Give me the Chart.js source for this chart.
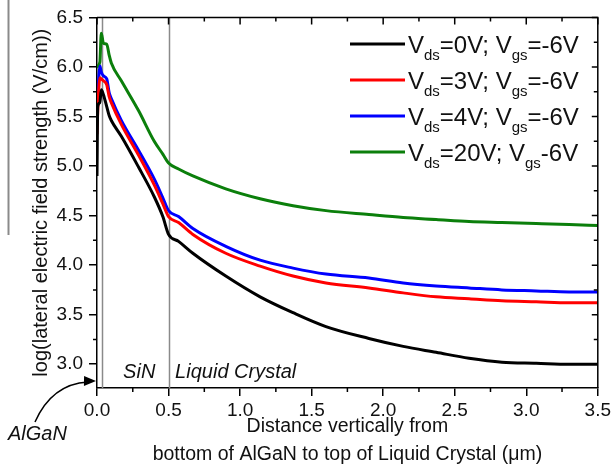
<!DOCTYPE html>
<html>
<head>
<meta charset="utf-8">
<script src="https://cdn.jsdelivr.net/npm/chart.js@4.4.1/dist/chart.umd.min.js"></script>
<style>
  html, body { margin: 0; padding: 0; background: #fff; }
  #wrap { position: relative; width: 614px; height: 468px; }
</style>
</head>
<body>
<div id="wrap"><canvas id="chart" width="614" height="468"></canvas></div>
<script>
// distance from bottom of AlGaN (um)
const xs = [0, 0.005, 0.02, 0.03, 0.045, 0.068, 0.085, 0.1, 0.17, 0.29, 0.4, 0.46, 0.5,
  0.57, 0.67, 0.9, 1.14, 1.37, 1.6, 1.9, 2.14, 2.37, 2.6, 2.83, 3.07, 3.3, 3.5];

// log(field) for each bias
const vds0 = [4.90, 5.60, 5.64, 5.77, 5.72, 5.60, 5.51, 5.46, 5.30, 4.99, 4.69, 4.49, 4.31,
  4.24, 4.12, 3.89, 3.68, 3.52, 3.38, 3.26, 3.18, 3.12, 3.06, 3.02, 3.01, 3.00, 3.00];
const vds3 = [5.32, 5.55, 5.89, 5.88, 5.86, 5.82, 5.70, 5.64, 5.42, 5.11, 4.81, 4.62, 4.49,
  4.43, 4.31, 4.12, 3.99, 3.89, 3.82, 3.77, 3.72, 3.68, 3.66, 3.64, 3.63, 3.62, 3.62];
const vds4 = [5.42, 5.65, 6.01, 5.95, 5.91, 5.88, 5.74, 5.68, 5.46, 5.16, 4.87, 4.68, 4.55,
  4.49, 4.37, 4.19, 4.05, 3.97, 3.91, 3.87, 3.82, 3.79, 3.77, 3.75, 3.74, 3.73, 3.73];
const vds20 = [5.99, 6.01, 6.05, 6.34, 6.24, 6.23, 6.12, 6.04, 5.86, 5.56, 5.25, 5.12, 5.03,
  4.97, 4.90, 4.77, 4.67, 4.60, 4.55, 4.51, 4.48, 4.46, 4.44, 4.43, 4.42, 4.41, 4.40];

const seriesLabels = ['V_{ds}=0V; V_{gs}=-6V', 'V_{ds}=3V; V_{gs}=-6V',
  'V_{ds}=4V; V_{gs}=-6V', 'V_{ds}=20V; V_{gs}-6V'];
const seriesColors = ['#000000', '#ff0000', '#0000ff', '#0b7f0b'];

const xTicks = [0, 0.5, 1.0, 1.5, 2.0, 2.5, 3.0, 3.5];
const xMinor = [0.25, 0.75, 1.25, 1.75, 2.25, 2.75, 3.25];
const yTicks = [3.0, 3.5, 4.0, 4.5, 5.0, 5.5, 6.0, 6.5];
const yMinor = [3.25, 3.75, 4.25, 4.75, 5.25, 5.75, 6.25];

// layer boundaries (AlGaN/SiN, SiN/LC)
const layerEdges = [0.032, 0.5];

const FONT = '"Liberation Sans", Arial, sans-serif';

function drawRich(ctx, label, x0, base) {
  const parts = label.split(/_\{([^}]*)\}/);
  let x = x0;
  parts.forEach((p, i) => {
    if (!p) return;
    if (i % 2) {
      ctx.font = '15px ' + FONT;
      ctx.fillText(p, x, base + 7);
    } else {
      ctx.font = '24px ' + FONT;
      ctx.fillText(p, x, base);
    }
    x += ctx.measureText(p).width;
  });
}

const extras = {
  id: 'extras',
  beforeDatasetsDraw(chart) {
    const { ctx, chartArea: a, scales: { x } } = chart;
    ctx.save();
    ctx.strokeStyle = '#8a8a8a';
    ctx.lineWidth = 1.5;
    layerEdges.forEach(v => {
      const px = Math.round(x.getPixelForValue(v)) + 0.5;
      ctx.beginPath();
      ctx.moveTo(px, a.top);
      ctx.lineTo(px, a.bottom);
      ctx.stroke();
    });
    ctx.restore();
  },
  afterDraw(chart) {
    const { ctx, chartArea: a, scales: { x, y } } = chart;
    ctx.save();

    // stray rule at the far left of the figure
    ctx.strokeStyle = '#8a8a8a';
    ctx.lineWidth = 2;
    ctx.beginPath();
    ctx.moveTo(8.5, 0);
    ctx.lineTo(8.5, 235);
    ctx.stroke();

    // top and right frame with inward ticks
    ctx.strokeStyle = '#000';
    ctx.lineWidth = 1.5;
    ctx.beginPath();
    ctx.moveTo(a.left, a.top);
    ctx.lineTo(a.right, a.top);
    ctx.lineTo(a.right, a.bottom);
    ctx.stroke();

    ctx.beginPath();
    xTicks.forEach(v => {
      const px = x.getPixelForValue(v);
      ctx.moveTo(px, a.top); ctx.lineTo(px, a.top + 7);
    });
    xMinor.forEach(v => {
      const px = x.getPixelForValue(v);
      ctx.moveTo(px, a.top); ctx.lineTo(px, a.top + 4);
      ctx.moveTo(px, a.bottom); ctx.lineTo(px, a.bottom + 4);
    });
    yTicks.forEach(v => {
      const py = y.getPixelForValue(v);
      ctx.moveTo(a.right, py); ctx.lineTo(a.right - 6, py);
    });
    yMinor.forEach(v => {
      const py = y.getPixelForValue(v);
      ctx.moveTo(a.right, py); ctx.lineTo(a.right - 4, py);
      ctx.moveTo(a.left, py); ctx.lineTo(a.left - 4, py);
    });
    ctx.stroke();

    // layer names
    ctx.fillStyle = '#111';
    ctx.font = 'italic 20px ' + FONT;
    ctx.textBaseline = 'alphabetic';
    ctx.textAlign = 'center';
    ctx.fillText('SiN', x.getPixelForValue(0.295), 378);
    ctx.textAlign = 'left';
    ctx.fillText('Liquid Crystal', x.getPixelForValue(0.546), 378);
    ctx.fillText('AlGaN', 8, 440);

    // arrow from AlGaN label to the thin layer
    const tipX = x.getPixelForValue(0) - 1;
    const tipY = y.getPixelForValue(2.83);
    const cx = 52, cy = 384;
    ctx.lineWidth = 1.5;
    ctx.strokeStyle = '#000';
    ctx.beginPath();
    ctx.moveTo(35, 422);
    ctx.quadraticCurveTo(cx, cy, tipX - 8, tipY + 1);
    ctx.stroke();
    const ang = Math.atan2(tipY - cy, tipX - cx) + 0.08;
    ctx.fillStyle = '#000';
    ctx.beginPath();
    ctx.moveTo(tipX, tipY);
    ctx.lineTo(tipX - 12 * Math.cos(ang) + 5 * Math.sin(ang), tipY - 12 * Math.sin(ang) - 5 * Math.cos(ang));
    ctx.lineTo(tipX - 12 * Math.cos(ang) - 5 * Math.sin(ang), tipY - 12 * Math.sin(ang) + 5 * Math.cos(ang));
    ctx.closePath();
    ctx.fill();

    // legend
    chart.data.datasets.forEach((ds, i) => {
      const ly = 44 + i * 36;
      ctx.strokeStyle = ds.borderColor;
      ctx.lineWidth = 3;
      ctx.beginPath();
      ctx.moveTo(350, ly);
      ctx.lineTo(405, ly);
      ctx.stroke();
      ctx.fillStyle = '#111';
      ctx.textAlign = 'left';
      drawRich(ctx, ds.label, 408, ly + 9);
    });

    ctx.restore();
  }
};

function init() {
  const ctx = document.getElementById('chart').getContext('2d');
  const series = [vds0, vds3, vds4, vds20];
  new Chart(ctx, {
    type: 'line',
    data: {
      datasets: series.map((vals, i) => ({
        label: seriesLabels[i],
        data: xs.map((xv, j) => ({ x: xv, y: vals[j] })),
        borderColor: seriesColors[i],
        borderWidth: 3,
        borderJoinStyle: 'round',
        pointRadius: 0,
        cubicInterpolationMode: 'monotone',
        fill: false
      }))
    },
    options: {
      responsive: false,
      animation: false,
      layout: { padding: { left: 18, right: 15, top: 16, bottom: 0 } },
      plugins: {
        legend: { display: false },
        tooltip: { enabled: false }
      },
      scales: {
        x: {
          type: 'linear',
          min: 0,
          max: 3.5,
          afterBuildTicks: s => { s.ticks = xTicks.map(v => ({ value: v })); },
          afterFit: s => { s.height = 80; },
          ticks: {
            callback: v => Number(v).toFixed(1),
            font: { size: 19, family: FONT },
            color: '#111',
            padding: 3,
            maxRotation: 0,
            autoSkip: false
          },
          grid: { drawOnChartArea: false, drawTicks: true, tickLength: 8, color: '#000', lineWidth: 1.5 },
          border: { color: '#000', width: 1.5 },
          title: {
            display: true,
            text: ['Distance vertically from', 'bottom of AlGaN to top of Liquid Crystal (\u03bcm)'],
            font: { size: 19.5, family: FONT, lineHeight: 1.44 },
            color: '#111',
            padding: { top: 0, bottom: -1 }
          }
        },
        y: {
          type: 'linear',
          min: 2.76,
          max: 6.5,
          afterBuildTicks: s => { s.ticks = yTicks.map(v => ({ value: v })); },
          afterFit: s => { s.width = 79; },
          ticks: {
            callback: v => Number(v).toFixed(1),
            font: { size: 19, family: FONT },
            color: '#111',
            padding: 6
          },
          grid: { drawOnChartArea: false, drawTicks: true, tickLength: 8, color: '#000', lineWidth: 1.5 },
          border: { color: '#000', width: 1.5 },
          title: {
            display: true,
            text: 'log(lateral electric field strength (V/cm))',
            font: { size: 20, family: FONT },
            color: '#111',
            padding: { top: 11, bottom: 0 }
          }
        }
      }
    },
    plugins: [extras]
  });
}

if (document.readyState === 'loading') {
  document.addEventListener('DOMContentLoaded', init);
} else {
  init();
}
</script>
</body>
</html>
